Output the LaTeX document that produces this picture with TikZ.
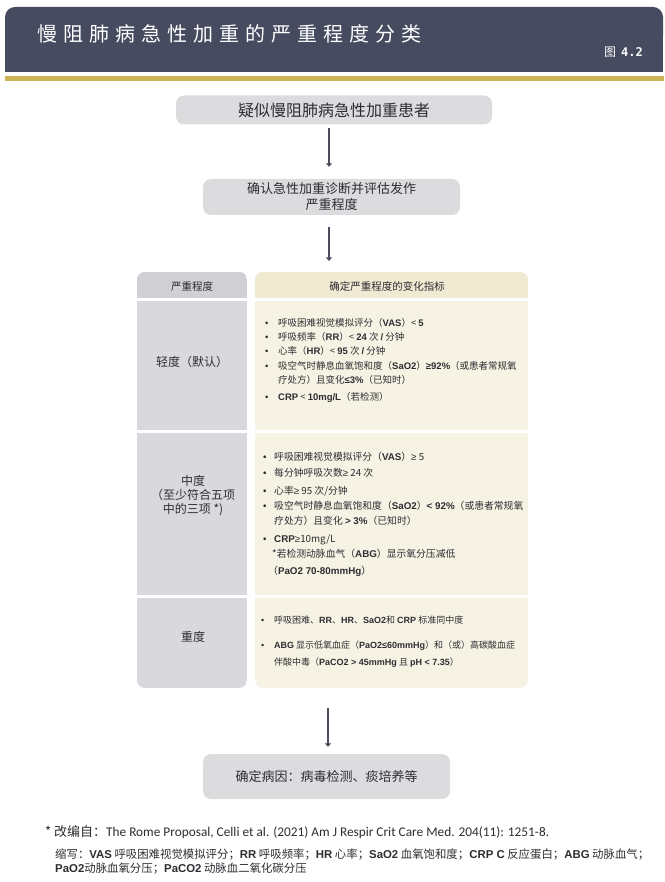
\documentclass[tikz,border=0pt]{standalone}
\usepackage{fontspec}
\setmainfont{Noto Sans CJK SC}
\newfontfamily\arialf{Liberation Sans}
\newfontfamily\calif{Carlito}
\newfontfamily\monof{DejaVu Sans Mono}
\usetikzlibrary{arrows.meta,positioning}
\definecolor{bandblue}{RGB}{70,75,96}
\definecolor{bandgold}{RGB}{204,181,86}
\definecolor{boxgray}{RGB}{220,220,223}
\definecolor{colgray}{RGB}{217,217,221}
\definecolor{headgray}{RGB}{208,208,212}
\definecolor{colcream}{RGB}{247,243,228}
\definecolor{headcream}{RGB}{240,234,211}
\definecolor{txt}{RGB}{45,45,50}
\definecolor{arrowc}{RGB}{75,78,92}
\newcommand\B[1]{{\arialf\bfseries #1}}
\newcommand\G{{\arialf ≥}}
\newcommand\bul[1][13pt]{\makebox[#1][l]{\arialf •}}
\newcommand\ind[1][13pt]{\hspace*{#1}}

\begin{document}
\begin{tikzpicture}
  [x=1pt,y=-1pt,
   every node/.style={inner sep=0pt,text=txt},
   flowbox/.style={fill=boxgray,rounded corners=8pt},
   arr/.style={draw=arrowc,line width=1.3pt,-{Triangle[width=6pt,length=3.5pt]}},
   levelname/.style={font=\fontsize{12}{14}\selectfont,align=center},
   headtext/.style={font=\fontsize{10.5}{12}\selectfont},
   criteria/.style={anchor=north west,align=left}]
  \useasboundingbox (0,0) rectangle (664,882);

  % header band
  \fill[bandblue,rounded corners=10pt] (5,7) rectangle (663,45);
  \fill[bandblue] (5,30) rectangle (663,72);
  \fill[bandgold] (5,76) rectangle (664,81);
  \node[anchor=west,text=white,font=\fontsize{20}{22}\selectfont\addfontfeature{LetterSpace=30}] (title) at (37,34) {慢阻肺病急性加重的严重程度分类};
  \node[anchor=east,text=white,font=\fontsize{12}{14}\selectfont] (fignum) at (643,52) {图\hspace{5pt}{\monof\bfseries 4.2}};

  % flow boxes
  \node[flowbox,minimum width=316pt,minimum height=29pt,font=\fontsize{16}{18}\selectfont] (suspect) at (334,110) {疑似慢阻肺病急性加重患者};
  \node[flowbox,minimum width=257pt,minimum height=36pt,align=center,font=\fontsize{13}{16}\selectfont] (confirm) at (331.5,197) {确认急性加重诊断并评估发作\\严重程度};
  \node[flowbox,minimum width=247pt,minimum height=45pt,font=\fontsize{13}{15}\selectfont] (cause) at (326.5,776.5) {确定病因：病毒检测、痰培养等};

  % table
  \begin{scope}
    \clip[rounded corners=8pt] (137,272) rectangle (247,688);
    \fill[colgray] (137,272) rectangle (247,688);
    \fill[headgray] (137,272) rectangle (247,298);
  \end{scope}
  \begin{scope}
    \clip[rounded corners=8pt] (255,272) rectangle (528,688);
    \fill[colcream] (255,272) rectangle (528,688);
    \fill[headcream] (255,272) rectangle (528,298);
  \end{scope}
  \foreach \y in {298,430,595}
    \fill[white] (130,\y) rectangle (535,\y+3);
  \coordinate (tabtop) at (329,272);
  \coordinate (tabbot) at (328,688);
  \coordinate (ax) at (329,0);

  \node[headtext] (hlevel) at (192,286) {严重程度};
  \node[headtext] (hcrit) at (387,286) {确定严重程度的变化指标};

  \node[levelname] (mild) at (192,362) {轻度（默认）};
  \node[levelname] (moderate) at (193,496) {中度\\（至少符合五项\\中的三项 *)};
  \node[levelname] (severe) at (193,637) {重度};

  \node[criteria,font=\fontsize{9.5}{14.3}\selectfont] (mildcrit) at (265,318) {%
    \bul 呼吸困难视觉模拟评分（\B{VAS}）< \B{5}\\
    \bul 呼吸频率（\B{RR}）< \B{24} 次 \B{/} 分钟\\
    \bul 心率（\B{HR}）< \B{95} 次 \B{/} 分钟\\
    \bul 吸空气时静息血氧饱和度（\B{SaO2}）\B{≥92\%}（或患者常规氧\\
    \ind 疗处方）且变化\B{≤3\%}（已知时）\\[2.7pt]
    \bul \B{CRP} < \B{10mg/L}（若检测）};

  \node[criteria,font=\fontsize{9.8}{14.5}\selectfont] (modcrit) at (263,452) {%
    \bul[11pt]呼吸困难视觉模拟评分（\B{VAS}）\G{} 5\\[1.5pt]
    \bul[11pt]每分钟呼吸次数\G{} 24 次\\[3.5pt]
    \bul[11pt]心率\G{} 95 次/分钟\\[0.5pt]
    \bul[11pt]吸空气时静息血氧饱和度（\B{SaO2}）\B{< 92\%}（或患者常规氧\\
    \ind[11pt]疗处方）且变化 \B{> 3\%}（已知时）\\[3.5pt]
    \bul[11pt]\B{CRP}\G{}10mg/L\\[0.5pt]
    \ind[9pt]*若检测动脉血气（\B{ABG}）显示氧分压减低\\[2.5pt]
    \ind[5pt]（\B{PaO2 70-80mmHg}）};

  \node[criteria,font=\fontsize{9}{17}\selectfont] (sevcrit) at (261,615.5) {%
    \bul 呼吸困难、\B{RR}、\B{HR}、\B{SaO2}和 \B{CRP} 标准同中度\\[8pt]
    \bul \B{ABG} 显示低氧血症（\B{PaO2≤60mmHg}）和（或）高碳酸血症\\
    \ind 伴酸中毒（\B{PaCO2 > 45mmHg} 且 \B{pH < 7.35}）};

  % arrows
  \draw[arr,shorten <=3pt,shorten >=12pt] (suspect.south -| ax) -- (confirm.north -| ax);
  \draw[arr,shorten <=12pt,shorten >=11pt] (confirm.south -| ax) -- (tabtop);
  \draw[arr,shorten <=20pt,shorten >=7pt] (tabbot) -- (cause.north -| tabbot);

  % notes
  \node[anchor=west,font=\fontsize{13}{15}\selectfont] (source) at (45,832) {* 改编自：{\calif\fontsize{13.3}{15}\selectfont The Rome Proposal, Celli et al. (2021) Am J Respir Crit Care Med. 204(11): 1251-8.}};
  \node[anchor=north west,align=left,font=\fontsize{11.4}{14}\selectfont] (abbrev) at (55,849) {%
    缩写：\B{VAS} 呼吸困难视觉模拟评分；\B{RR} 呼吸频率；\B{HR} 心率；\B{SaO2} 血氧饱和度；\B{CRP C} 反应蛋白；\B{ABG} 动脉血气；\\
    \B{PaO2}动脉血氧分压；\B{PaCO2} 动脉血二氧化碳分压};
\end{tikzpicture}
\end{document}
